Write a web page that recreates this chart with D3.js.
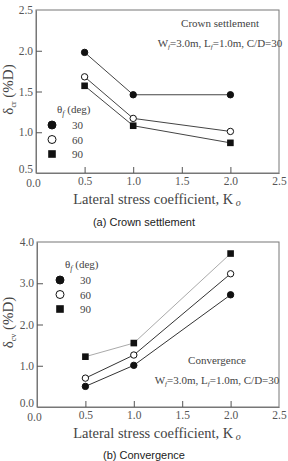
<!DOCTYPE html>
<html>
<head>
<meta charset="utf-8">
<script src="https://cdn.jsdelivr.net/npm/d3@7"></script>
<style>
  body { margin: 0; background: #fff; }
</style>
</head>
<body>
<div id="chart"></div>
<script>
// data
const ko = [0.5, 1.0, 2.0];
const angles = ["30", "60", "90"];
const crown30 = [1.98, 1.46, 1.46];
const crown60 = [1.68, 1.17, 1.01];
const crown90 = [1.57, 1.08, 0.87];
const conv30 = [0.50, 1.01, 2.72];
const conv60 = [0.70, 1.26, 3.23];
const conv90 = [1.22, 1.55, 3.72];
const xTicks = [0.0, 0.5, 1.0, 1.5, 2.0, 2.5];
const crownTicks = [0.5, 1.0, 1.5, 2.0, 2.5];
const convTicks = [0.0, 1.0, 2.0, 3.0, 4.0];

const SERIF = "'Liberation Serif', 'Times New Roman', Times, serif";
const SANS = "'Liberation Sans', Arial, Helvetica, sans-serif";

const svg = d3.select("#chart").append("svg")
    .attr("width", 288).attr("height", 461)
    .attr("font-family", SERIF);

const shapes = ["filled", "open", "square"];

function marker(g, kind, cx, cy, r) {
    if (kind === "square") {
        g.append("rect").attr("x", cx - r).attr("y", cy - r)
            .attr("width", 2 * r).attr("height", 2 * r).attr("fill", "#111");
    } else {
        g.append("circle").attr("cx", cx).attr("cy", cy).attr("r", r)
            .attr("fill", kind === "filled" ? "#111" : "#fff")
            .attr("stroke", "#111").attr("stroke-width", 1);
    }
}

function txt(g, x, y, size) {
    return g.append("text").attr("x", x).attr("y", y)
        .attr("font-family", SERIF).attr("font-size", size).attr("fill", "#444");
}

function panel(opt) {
    const g = svg.append("g");
    const x = d3.scaleLinear().domain([0, 2.5]).range([opt.left, 279]);
    const y = d3.scaleLinear().domain(opt.ydom).range([opt.bottom, opt.top]);

    // frame
    g.append("rect").attr("x", opt.left).attr("y", opt.top)
        .attr("width", 279 - opt.left).attr("height", opt.bottom - opt.top)
        .attr("fill", "none").attr("stroke", "#777").attr("stroke-width", 1);

    // axes with inward ticks
    const xa = g.append("g").attr("transform", "translate(0," + opt.bottom + ")")
        .call(d3.axisBottom(x).tickValues(xTicks).tickFormat(d3.format(".1f"))
            .tickSizeInner(-6).tickSizeOuter(0).tickPadding(4));
    const ya = g.append("g").attr("transform", "translate(" + opt.left + ",0)")
        .call(d3.axisLeft(y).tickValues(opt.yticks).tickFormat(d3.format(".1f"))
            .tickSizeInner(-6).tickSizeOuter(0).tickPadding(3));
    [xa, ya].forEach(a => {
        a.attr("font-family", SERIF).attr("font-size", 11.5);
        a.select(".domain").attr("stroke", "#777");
        a.selectAll(".tick line").attr("stroke", "#555");
        a.selectAll("text").attr("fill", "#555");
    });
    xa.selectAll(".tick").filter(d => d === 0 || d === 2.5).select("line").remove();
    xa.selectAll(".tick").filter(d => d === 0).select("text").attr("dx", -3).attr("dy", "0.9em");
    const lowY = ya.selectAll(".tick").filter((d, i) => i === 0);
    lowY.select("line").remove();
    lowY.select("text").attr("dy", "-0.05em");
    ya.selectAll(".tick").filter((d, i) => i === opt.yticks.length - 1).select("line").remove();

    // series
    const line = d3.line().x((d, i) => x(ko[i])).y(d => y(d));
    opt.series.forEach((s, k) => {
        g.append("path").datum(s).attr("d", line).attr("fill", "none")
            .attr("stroke", opt.lineColors[k]).attr("stroke-width", 1);
    });
    opt.series.forEach((s, k) => {
        s.forEach((v, i) => marker(g, shapes[k], x(ko[i]), y(v),
            shapes[k] === "square" ? 3.3 : 3.2));
    });

    // legend
    const lg = txt(g, opt.legX, opt.legY, 11);
    lg.append("tspan").text("θ");
    lg.append("tspan").text("f").attr("dy", 3).attr("font-size", 8).attr("font-style", "italic");
    lg.append("tspan").text(" (deg)").attr("dy", -3);
    angles.forEach((a, k) => {
        const yy = opt.legY + 16 + k * 14.5;
        marker(g, shapes[k], opt.legX - 5, yy - 4, shapes[k] === "square" ? 3.8 : 4);
        txt(g, opt.legX + 15, yy, 11).text(a);
    });

    // annotation
    txt(g, opt.noteX, opt.noteY, 11).attr("text-anchor", "middle").text(opt.note);
    const w = txt(g, opt.noteX, opt.noteY + 20, 11).attr("text-anchor", "middle");
    w.append("tspan").text("W");
    w.append("tspan").text("f").attr("dy", 2).attr("font-size", 7).attr("font-style", "italic");
    w.append("tspan").text("=3.0m, L").attr("dy", -2);
    w.append("tspan").text("f").attr("dy", 2).attr("font-size", 7).attr("font-style", "italic");
    w.append("tspan").text("=1.0m, C/D=30").attr("dy", -2);

    // axis titles
    const xt = txt(g, 157, opt.bottom + 31, 14.5).attr("text-anchor", "middle");
    xt.append("tspan").text("Lateral stress coefficient, K");
    xt.append("tspan").text(" o").attr("dy", 2).attr("font-size", 10).attr("font-style", "italic");

    const yc = (opt.top + opt.bottom) / 2;
    const yt = g.append("text").attr("transform", "translate(13," + (yc - 2) + ") rotate(-90)")
        .attr("text-anchor", "middle").attr("font-family", SERIF)
        .attr("font-size", 15).attr("fill", "#444");
    yt.append("tspan").text("δ");
    yt.append("tspan").text(opt.sub).attr("dy", 3).attr("font-size", 8);
    yt.append("tspan").text(" (%D)").attr("dy", -3);

    g.append("text").attr("x", 144).attr("y", opt.capY)
        .attr("text-anchor", "middle").attr("font-family", SANS)
        .attr("font-size", 11).attr("fill", "#222").text(opt.caption);
}

panel({
    left: 36, top: 10, bottom: 173, ydom: [0.5, 2.5], yticks: crownTicks,
    series: [crown30, crown60, crown90], lineColors: ["#444", "#444", "#444"],
    legX: 57, legY: 113, note: "Crown settlement", noteX: 220, noteY: 27,
    sub: "cr", caption: "(a)  Crown  settlement", capY: 226
});

panel({
    left: 37, top: 242, bottom: 407, ydom: [0, 4], yticks: convTicks,
    series: [conv30, conv60, conv90], lineColors: ["#333", "#333", "#aaa"],
    legX: 65, legY: 268, note: "Convergence", noteX: 217, noteY: 364,
    sub: "cv", caption: "(b)  Convergence", capY: 459
});
</script>
</body>
</html>
